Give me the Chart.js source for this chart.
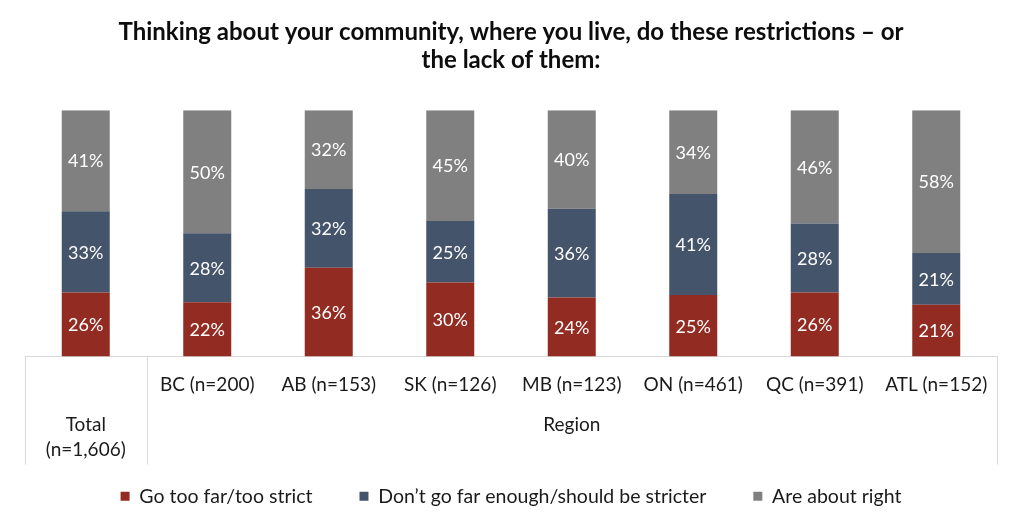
<!DOCTYPE html>
<html>
<head>
<meta charset="utf-8">
<script src="https://cdn.jsdelivr.net/npm/chart.js@4"></script>
<style>
  html, body { margin: 0; padding: 0; background: #fff; }
  #wrap { width: 1024px; height: 531px; }
</style>
</head>
<body>
<div id="wrap"><canvas id="chart" width="1024" height="531"></canvas></div>
<script>
const categories = ['Total (n=1,606)', 'BC (n=200)', 'AB (n=153)', 'SK (n=126)', 'MB (n=123)', 'ON (n=461)', 'QC (n=391)', 'ATL (n=152)'];
const tooStrict = [26, 22, 36, 30, 24, 25, 26, 21];
const notEnough = [33, 28, 32, 25, 36, 41, 28, 21];
const aboutRight = [41, 50, 32, 45, 40, 34, 46, 58];
const seriesNames = ['Go too far/too strict', 'Don\u2019t go far enough/should be stricter', 'Are about right'];
const titleLines = ['Thinking about your community, where you live, do these restrictions \u2013 or', 'the lack of them:'];
const totalLabel = ['Total', '(n=1,606)'];
const groupLabel = 'Region';

const FONT = 'Lato, "Open Sans", sans-serif';
const lineColor = '#d9d9d9';
const tableDepth = 108; // how far the table lines run below the axis

// white % labels inside every segment
const segmentLabels = {
  id: 'segmentLabels',
  afterDatasetsDraw(chart) {
    const ctx = chart.ctx;
    ctx.save();
    ctx.fillStyle = '#ffffff';
    ctx.font = '18px ' + FONT;
    ctx.textAlign = 'center';
    ctx.textBaseline = 'middle';
    chart.data.datasets.forEach((ds, di) => {
      chart.getDatasetMeta(di).data.forEach((bar, i) => {
        ctx.fillText(ds.data[i] + '%', bar.x, (bar.y + bar.base) / 2 + 1);
      });
    });
    ctx.restore();
  }
};

// table-style lines under the axis plus the Total / Region labels
const axisTable = {
  id: 'axisTable',
  afterDraw(chart) {
    const x = chart.scales.x;
    const ctx = chart.ctx;
    const top = x.top;
    const bottom = x.top + tableDepth;
    const step = x.getPixelForValue(1) - x.getPixelForValue(0);
    const left = x.getPixelForValue(0) - step / 2;
    const split = x.getPixelForValue(0) + step / 2;
    const right = x.getPixelForValue(categories.length - 1) + step / 2;
    ctx.save();
    ctx.strokeStyle = lineColor;
    ctx.lineWidth = 1;
    [left, split, right].forEach(px => {
      ctx.beginPath();
      ctx.moveTo(Math.round(px) + 0.5, top);
      ctx.lineTo(Math.round(px) + 0.5, bottom);
      ctx.stroke();
    });
    ctx.fillStyle = '#1a1a1a';
    ctx.font = '19px ' + FONT;
    ctx.textAlign = 'center';
    ctx.textBaseline = 'middle';
    ctx.fillText(totalLabel[0], x.getPixelForValue(0), top + 68);
    ctx.fillText(totalLabel[1], x.getPixelForValue(0), top + 93);
    ctx.fillText(groupLabel, (split + right) / 2, top + 68);
    ctx.restore();
  }
};

new Chart(document.getElementById('chart'), {
  type: 'bar',
  data: {
    labels: categories,
    datasets: [
      { label: seriesNames[0], data: tooStrict, backgroundColor: '#922b21' },
      { label: seriesNames[1], data: notEnough, backgroundColor: '#44546a' },
      { label: seriesNames[2], data: aboutRight, backgroundColor: '#808080' }
    ]
  },
  options: {
    responsive: false,
    animation: false,
    layout: { padding: { left: 25, right: 27, top: 0, bottom: 15 } },
    datasets: { bar: { categoryPercentage: 1, barPercentage: 0.395 } },
    plugins: {
      title: {
        display: true,
        text: titleLines,
        color: '#0d0d0d',
        font: { family: FONT, size: 24, weight: 'bold', lineHeight: 1.17 },
        padding: { top: 18, bottom: 36 }
      },
      legend: {
        position: 'bottom',
        labels: {
          color: '#1a1a1a',
          font: { family: FONT, size: 19.5 },
          boxWidth: 9,
          boxHeight: 9,
          padding: 47
        }
      },
      tooltip: { enabled: false }
    },
    scales: {
      x: {
        stacked: true,
        grid: { display: false, drawTicks: false },
        border: { color: lineColor },
        ticks: {
          color: '#1a1a1a',
          font: { family: FONT, size: 19 },
          padding: 17,
          autoSkip: false,
          maxRotation: 0,
          callback: function(val, i) { return i === 0 ? '' : categories[i]; }
        },
        afterFit: function(scale) { scale.height = 83; }
      },
      y: {
        stacked: true,
        display: false,
        min: 0,
        max: 100
      }
    }
  },
  plugins: [segmentLabels, axisTable]
});
</script>
</body>
</html>
